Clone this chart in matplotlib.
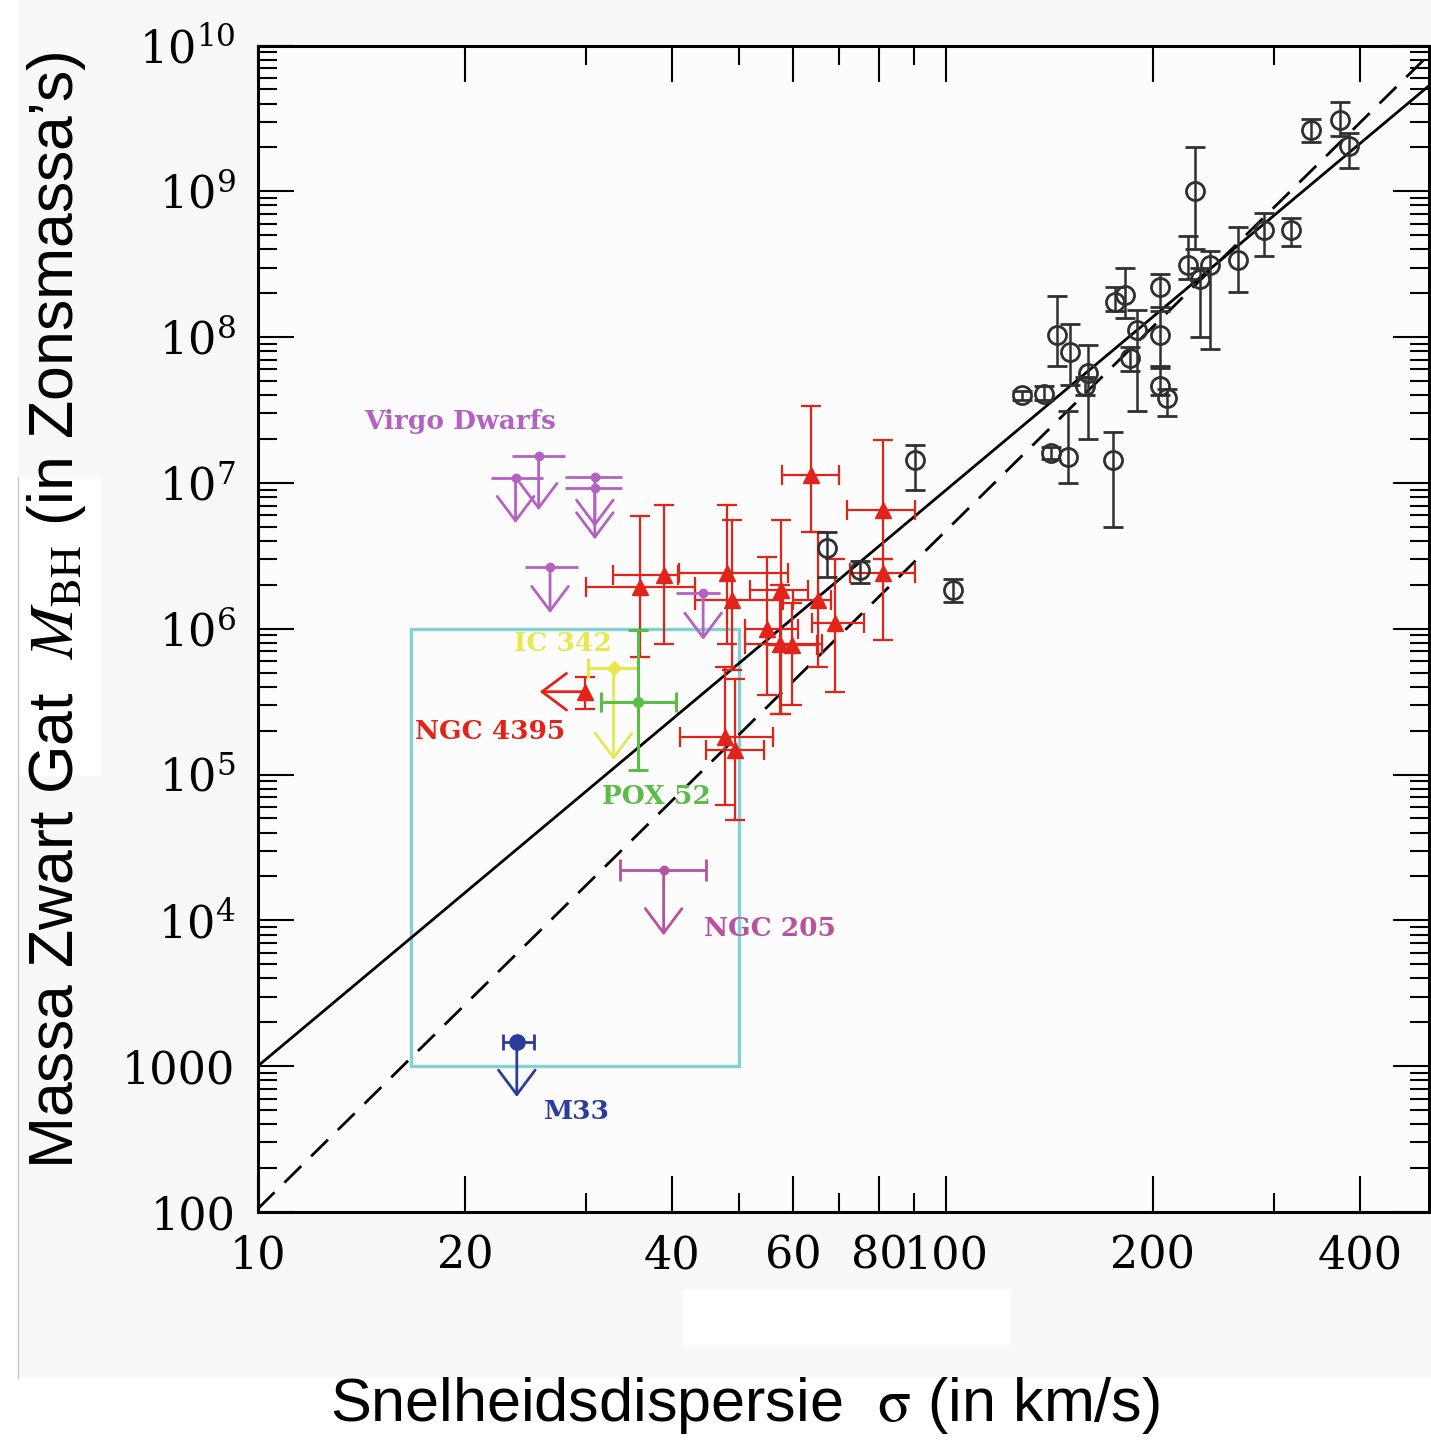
import numpy as np
import matplotlib.pyplot as plt
from matplotlib.patches import Rectangle
from matplotlib.ticker import FixedLocator, FixedFormatter, NullFormatter

plt.rcParams['font.family'] = ['DejaVu Serif']
plt.rcParams['mathtext.fontset'] = 'dejavuserif'

# --- black open circles: dynamical black hole masses ---
bh_sigma = [340, 374, 385, 230, 290, 317, 266, 225, 242, 234, 205, 176, 182, 189.5,
            205, 145, 151.6, 161, 159.4, 185, 205, 209.5, 129, 139, 142, 150.7, 175,
            90.2, 67.1, 75.1, 102.6]
bh_mass = [2.63e9, 3.1e9, 2.05e9, 1.0e9, 5.4e8, 5.4e8, 3.4e8, 3.1e8, 3.1e8, 2.5e8, 2.2e8,
           1.75e8, 1.95e8, 1.12e8, 1.03e8, 1.03e8, 7.9e7, 5.65e7, 4.6e7, 7.15e7, 4.6e7,
           3.8e7, 4.0e7, 4.1e7, 1.6e7, 1.5e7, 1.44e7, 1.44e7, 3.56e6, 2.53e6, 1.84e6]
bh_lo = [2.19e9, 2.4e9, 1.45e9, 4.0e8, 3.6e8, 4.2e8, 2.05e8, 2.5e8, 8.3e7, 1.0e8, 1.6e8,
         1.5e8, 1.35e8, 3.1e7, 6.3e7, 6.3e7, 4.7e7, 2.0e7, 4.0e7, 5.9e7, 4.0e7,
         2.9e7, 3.7e7, 3.7e7, 1.45e7, 1.0e7, 5.0e6, 9.0e6, 2.27e6, 2.05e6, 1.53e6]
bh_hi = [3.13e9, 4.1e9, 2.5e9, 2.0e9, 7.1e8, 6.6e8, 5.7e8, 4.9e8, 3.9e8, 3.0e8, 2.7e8,
         2.2e8, 3.0e8, 1.53e8, 1.5e8, 1.9e8, 1.23e8, 8.8e7, 5.3e7, 8.6e7, 6.1e7,
         4.4e7, 4.3e7, 4.6e7, 1.75e7, 3.1e7, 2.24e7, 1.82e7, 4.6e6, 2.9e6, 2.18e6]

# --- red triangles: low-mass AGN ---
agn_sigma = [63.7, 81, 81, 35.96, 38.9, 48.05, 48.9, 57.7, 54.9, 57.4, 59.7, 65.3, 69.1, 47.8, 49.4]
agn_mass = [1.13e7, 6.5e6, 2.4e6, 1.94e6, 2.35e6, 2.4e6, 1.57e6, 1.84e6, 1.0e6, 7.9e5, 7.7e5,
            1.57e6, 1.09e6, 1.82e5, 1.47e5]
agn_s_lo = [57.8, 71.8, 72.5, 30.0, 32.8, 41.0, 43.2, 52, 51, 51, 55, 60, 64, 41.1, 44.8]
agn_s_hi = [70.0, 90.2, 90.2, 43.2, 40.8, 59, 58, 63, 61, 66, 65, 68, 76, 56.0, 54.5]
agn_m_lo = [4.6e6, 3.0e6, 8.4e5, 6.4e5, 7.9e5, 7.9e5, 5.2e5, 2.6e5, 3.5e5, 2.6e5, 3.0e5,
            5.5e5, 3.7e5, 6.2e4, 4.9e4]
agn_m_hi = [3.37e7, 1.97e7, 3.0e6, 5.9e6, 7.05e6, 7.05e6, 5.6e6, 5.6e6, 3.1e6, 2.0e6, 1.5e6,
            4.6e6, 3.0e6, 5.5e5, 4.5e5]

# --- Virgo dwarfs: upper limits ---
virgo_sigma = [25.6, 23.7, 30.9, 30.9, 26.6, 44.4]
virgo_mass = [1.53e7, 1.08e7, 1.1e7, 9.2e6, 2.66e6, 1.75e6]
virgo_s_lo = [23.4, 21.8, 28.0, 28.0, 24.5, 40.6]
virgo_s_hi = [28.0, 26.0, 33.8, 33.8, 29.2, 47.0]
virgo_lim = [6.5e6, 5.3e6, 5.0e6, 4.1e6, 1.28e6, 8.4e5]

# --- individual objects ---
ngc4395 = dict(sigma=29.9, mass=3.7e5, m_lo=2.8e5, m_hi=4.7e5, s_lim=25.7)
ic342 = dict(sigma=32.9, mass=5.35e5, s_lo=30.2, s_hi=35.7, m_lim=1.26e5)
pox52 = dict(sigma=35.7, mass=3.16e5, s_lo=31.5, s_hi=40.6, m_lo=1.07e5, m_hi=9.8e5)
ngc205 = dict(sigma=38.9, mass=2.2e4, s_lo=33.6, s_hi=44.8, m_lim=7.9e3)
m33 = dict(sigma=23.8, mass=1.47e3, s_lo=22.7, s_hi=25.2, m_lim=616)

# region of interest box (sigma range, mass range)
box_sigma = [16.7, 50.0]
box_mass = [1e3, 1e6]

# relations: M = norm * (sigma/10)^slope
fit_solid = dict(norm=1000.0, slope=3.95)
fit_dashed = dict(norm=105.0, slope=4.65)

x_ticks = [10, 20, 40, 60, 80, 100, 200, 400]
x_minor = [30, 50, 70, 90, 300]
y_ticks = [1e2, 1e3, 1e4, 1e5, 1e6, 1e7, 1e8, 1e9, 1e10]
y_labels = ['100', '1000', r'$10^4$', r'$10^5$', r'$10^6$', r'$10^7$', r'$10^8$', r'$10^9$', r'$10^{10}$']

c_black = '#303030'
c_red = '#e2231a'
c_purple = '#b362c4'
c_pink = '#b8519f'
c_yellow = '#e6e84e'
c_green = '#5bbd48'
c_blue = '#2c3c9c'
c_cyan = '#82d2d4'

fig = plt.figure(figsize=(14.31, 14.40), dpi=100, facecolor='#f8f8f8')

# paper artefacts of the scanned figure
for (x0, y0, w, h) in [(0, 0, 17, 1440), (0, 1378, 1431, 62), (683, 1290, 327, 55), (0, 478, 100, 297)]:
    fig.patches.append(Rectangle((x0 / 1431, 1 - (y0 + h) / 1440), w / 1431, h / 1440,
                                 transform=fig.transFigure, color='white', zorder=0))
fig.add_artist(plt.Line2D([17.5 / 1431, 17.5 / 1431], [1 - 1378 / 1440, 1 - 478 / 1440],
                          transform=fig.transFigure, color='#c8c8c8', lw=1))

ax = fig.add_axes([257.7 / 1431, 1 - 1212 / 1440, 1170.8 / 1431, 1166.5 / 1440])
ax.set_facecolor('#fcfcfc')
ax.set_xscale('log')
ax.set_yscale('log')
ax.set_xlim(10, 503)
ax.set_ylim(100, 1e10)


def limit_arrow(x0, y0, x1, y1, color):
    ax.annotate('', xy=(x1, y1), xytext=(x0, y0),
                arrowprops=dict(arrowstyle='->,head_length=0.8,head_width=0.6', color=color,
                                lw=2.0, shrinkA=0, shrinkB=0, mutation_scale=22))


# fit lines
sig = np.array([10.0, 503.0])
ax.plot(sig, fit_solid['norm'] * (sig / 10) ** fit_solid['slope'], color='black', lw=2.0)
ax.plot(sig, fit_dashed['norm'] * (sig / 10) ** fit_dashed['slope'], color='black', lw=2.0,
        dashes=(8.5, 5))

# box
ax.add_patch(Rectangle((box_sigma[0], box_mass[0]), box_sigma[1] - box_sigma[0],
                       box_mass[1] - box_mass[0], fill=False, ec=c_cyan, lw=2.4, zorder=1))

# black circles
bs, bm = np.array(bh_sigma), np.array(bh_mass)
ax.errorbar(bs, bm, yerr=[bm - np.array(bh_lo), np.array(bh_hi) - bm], fmt='o', mfc='none',
            mec=c_black, ms=13, mew=2.0, ecolor=c_black, elinewidth=1.8, capsize=7,
            capthick=1.8, zorder=4)

# red triangles
rs, rm = np.array(agn_sigma), np.array(agn_mass)
ax.errorbar(rs, rm, xerr=[rs - np.array(agn_s_lo), np.array(agn_s_hi) - rs],
            yerr=[rm - np.array(agn_m_lo), np.array(agn_m_hi) - rm], fmt='^', color=c_red,
            ms=12, elinewidth=1.6, capsize=7, capthick=1.6, zorder=3)

# Virgo dwarfs
vs = np.array(virgo_sigma)
ax.errorbar(vs, virgo_mass, xerr=[vs - np.array(virgo_s_lo), np.array(virgo_s_hi) - vs],
            fmt='o', color=c_purple, ms=6, elinewidth=2.0, capsize=0, zorder=3)
for s, m, lim in zip(virgo_sigma, virgo_mass, virgo_lim):
    limit_arrow(s, m, s, lim, c_purple)

# NGC 205
ax.errorbar([ngc205['sigma']], [ngc205['mass']],
            xerr=[[ngc205['sigma'] - ngc205['s_lo']], [ngc205['s_hi'] - ngc205['sigma']]],
            fmt='o', color=c_pink, ms=6, elinewidth=2.0, capsize=8, capthick=2.0, zorder=3)
limit_arrow(ngc205['sigma'], ngc205['mass'], ngc205['sigma'], ngc205['m_lim'], c_pink)

# NGC 4395
ax.errorbar([ngc4395['sigma']], [ngc4395['mass']],
            yerr=[[ngc4395['mass'] - ngc4395['m_lo']], [ngc4395['m_hi'] - ngc4395['mass']]],
            fmt='^', color=c_red, ms=12, elinewidth=1.6, capsize=7, capthick=1.6, zorder=3)
limit_arrow(ngc4395['sigma'], ngc4395['mass'], ngc4395['s_lim'], ngc4395['mass'], c_red)

# IC 342
ax.errorbar([ic342['sigma']], [ic342['mass']],
            xerr=[[ic342['sigma'] - ic342['s_lo']], [ic342['s_hi'] - ic342['sigma']]],
            fmt='D', color=c_yellow, ms=7, elinewidth=2.2, capsize=7, capthick=2.2, zorder=3)
limit_arrow(ic342['sigma'], ic342['mass'], ic342['sigma'], ic342['m_lim'], c_yellow)

# POX 52
ax.errorbar([pox52['sigma']], [pox52['mass']],
            xerr=[[pox52['sigma'] - pox52['s_lo']], [pox52['s_hi'] - pox52['sigma']]],
            yerr=[[pox52['mass'] - pox52['m_lo']], [pox52['m_hi'] - pox52['mass']]],
            fmt='o', color=c_green, ms=7, elinewidth=2.2, capsize=7, capthick=2.2, zorder=3)

# M33
ax.errorbar([m33['sigma']], [m33['mass']],
            xerr=[[m33['sigma'] - m33['s_lo']], [m33['s_hi'] - m33['sigma']]],
            fmt='o', color=c_blue, ms=11, elinewidth=2.0, capsize=6, capthick=2.0, zorder=3)
limit_arrow(m33['sigma'], m33['mass'], m33['sigma'], m33['m_lim'], c_blue)

# object labels
lab = dict(fontsize=19, fontweight='bold', ha='center', va='center', family='DejaVu Serif')
ax.text(19.7, 2.63e7, 'Virgo Dwarfs', color=c_purple, **lab)
ax.text(27.8, 7.98e5, 'IC 342', color=c_yellow, **lab)
ax.text(21.75, 1.97e5, 'NGC 4395', color=c_red, **lab)
ax.text(38.0, 7.05e4, 'POX 52', color=c_green, **lab)
ax.text(55.5, 8.8e3, 'NGC 205', color=c_pink, **lab)
ax.text(29.1, 486, 'M33', color=c_blue, **lab)

# axes styling
for sp in ax.spines.values():
    sp.set_linewidth(2.2)
ax.xaxis.set_major_locator(FixedLocator(x_ticks))
ax.xaxis.set_major_formatter(FixedFormatter([str(v) for v in x_ticks]))
ax.xaxis.set_minor_locator(FixedLocator(x_minor))
ax.xaxis.set_minor_formatter(NullFormatter())
ax.yaxis.set_major_locator(FixedLocator(y_ticks))
ax.yaxis.set_major_formatter(FixedFormatter(y_labels))
ax.tick_params(which='both', direction='in', top=True, right=True, width=1.5, colors='black')
ax.tick_params(which='major', length=26, labelsize=32)
ax.tick_params(which='minor', length=14)
ax.tick_params(axis='x', which='major', pad=16)
ax.tick_params(axis='y', which='major', pad=16)

fig.text(57 / 1431, 1 - 610 / 1440, "Massa Zwart Gat  $M_{\\rm BH}$ (in Zonsmassa\u2019s)",
         rotation=90, ha='center', va='center', fontsize=45, family='Liberation Sans',
         math_fontfamily='stix')
fig.text(745 / 1431, 1 - 1405 / 1440, "Snelheidsdispersie  $\\mathrm{\\sigma}$ (in km/s)",
         ha='center', va='center', fontsize=44, family='Liberation Sans', math_fontfamily='stix')

fig.savefig('out.png', dpi=100, facecolor=fig.get_facecolor())
